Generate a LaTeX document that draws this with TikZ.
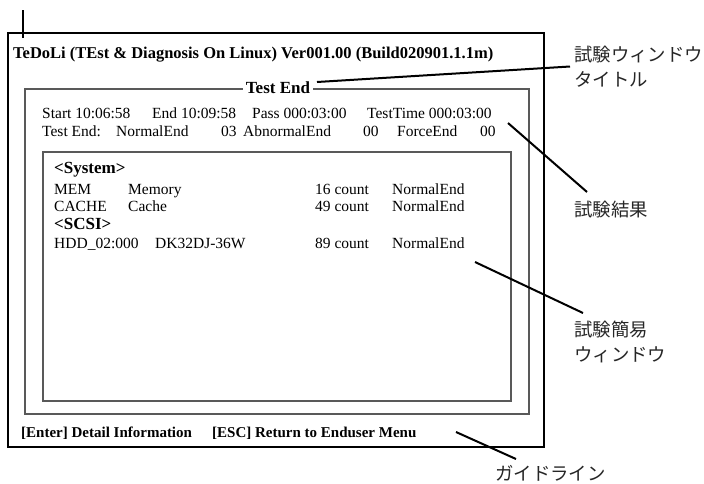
\documentclass[tikz,border=0pt]{standalone}
\usepackage{fontspec}
\setmainfont{Liberation Serif}
\newfontfamily\jpfont{Noto Sans CJK JP}
\usepackage{tikz}
\usetikzlibrary{calc}

\tikzset{
  scr/.style={font=\fontsize{15.5}{18}\selectfont,anchor=base west,inner sep=0pt},
  scrb/.style={scr,font=\fontsize{#1}{18}\selectfont\bfseries},
  scrb/.default=17,
  lbl/.style={font=\jpfont\fontsize{18.4}{25}\selectfont,anchor=base west,align=left,inner sep=0pt,text=black!85},
  lead/.style={line width=2pt},
  frame/.style={line width=1.2pt,draw=black!65}
}

\begin{document}
\begin{tikzpicture}[x=1pt,y=-1pt]
  \useasboundingbox (0,0) rectangle (704,483);
  % screen frames
  \draw[line width=2pt] (8,33) rectangle (544,447);
  \draw[frame] (25,89) rectangle (529,414);
  \draw[frame] (43,152) rectangle (511,401);
  \coordinate (tickA) at (23,10);
  \coordinate (tickB) at (23,38);
  \draw[line width=2pt] (tickA)--(tickB);
  % screen texts
  \node[scrb=16.5] (title) at (13,58) {TeDoLi (TEst \& Diagnosis On Linux) Ver001.00 (Build020901.1.1m)};
  \node[scrb,anchor=base,fill=white,inner xsep=3pt] (wintitle) at (278,93) {Test End};
  \foreach \x/\t [count=\i] in {42/Start 10:06:58,152/End 10:09:58,252/Pass 000:03:00,367/TestTime 000:03:00}
    \node[scr] (r1-\i) at (\x,118) {\t};
  \foreach \x/\t [count=\i] in {42/Test End:,116/NormalEnd,221/03,243/AbnormalEnd,363/00,397/ForceEnd,480/00}
    \node[scr] (r2-\i) at (\x,136) {\t};
  \node[scrb] (sys) at (54,173) {<System>};
  \node[scr] (mem) at (54,194) {MEM};
  \node[scr] (memname) at (128,194) {Memory};
  \node[scr] (memcnt) at (315,194) {16 count};
  \node[scr] (memres) at (392,194) {NormalEnd};
  \node[scr] (cache) at (54,211) {CACHE};
  \node[scr] (cachename) at (128,211) {Cache};
  \node[scr] (cachecnt) at (315,211) {49 count};
  \node[scr] (cacheres) at (392,211) {NormalEnd};
  \node[scrb] (scsi) at (54,229) {<SCSI>};
  \node[scr] (hdd) at (54,248) {HDD\_02:000};
  \node[scr] (hddname) at (155,248) {DK32DJ-36W};
  \node[scr] (hddcnt) at (315,248) {89 count};
  \node[scr] (hddres) at (392,248) {NormalEnd};
  \node[scrb=15] (guide) at (21,437) {[Enter] Detail Information};
  \node[scrb=15] (esc) at (212,437) {[ESC] Return to Enduser Menu};
  % callout labels (base = last line)
  \node[lbl] (ltitle) at (574,86.5) {試験ウィンドウ\\タイトル};
  \node[lbl] (lres) at (574,216) {試験結果};
  \node[lbl] (lwin) at (574,361) {試験簡易\\ウィンドウ};
  \node[lbl] (lguide) at (495,480) {ガイドライン};
  \coordinate (p1) at (317,82);
  \coordinate (p2) at (508,123);
  \coordinate (p3) at (475,262);
  \coordinate (p4) at (456,432);
  \draw[lead] (p1)--($(ltitle.base west)+(-4,-20)$);
  \draw[lead] (p2)--($(lres.base west)+(13,-24)$);
  \draw[lead] (p3)--($(lwin.base west)+(9,-48)$);
  \draw[lead] (p4)--($(lguide.base west)+(21,-21)$);
\end{tikzpicture}
\end{document}
